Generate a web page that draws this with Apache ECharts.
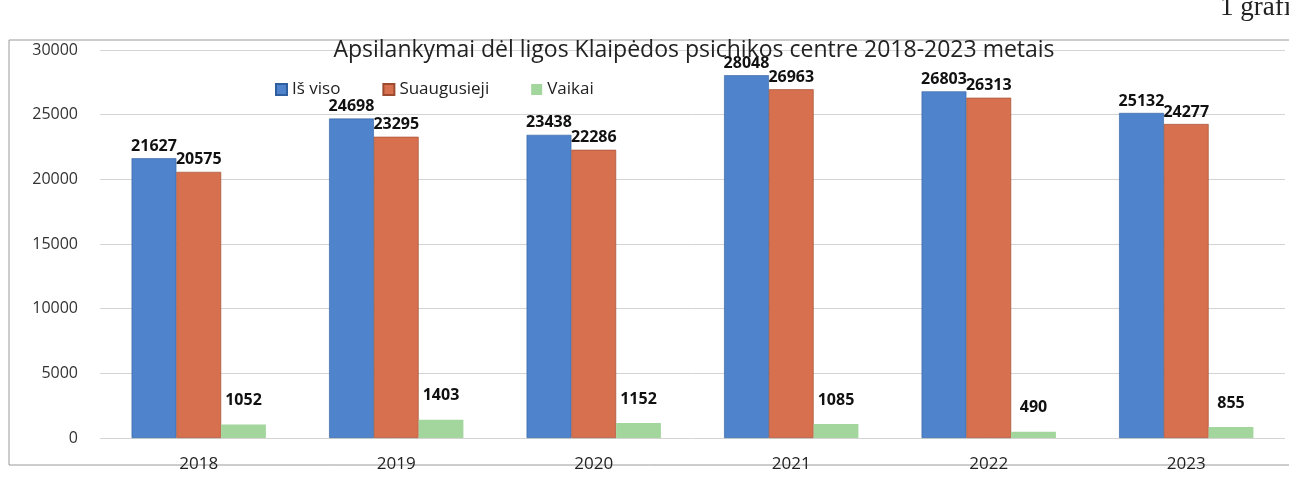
<!DOCTYPE html>
<html>
<head>
<meta charset="utf-8">
<script src="https://cdn.jsdelivr.net/npm/echarts@6/dist/echarts.min.js"></script>
<style>
  html, body { margin: 0; padding: 0; background: #fff; }
  #chart { width: 1289px; height: 483px; }
</style>
</head>
<body>
<div id="chart"></div>
<script>
// metai
var years = ['2018', '2019', '2020', '2021', '2022', '2023'];
// apsilankymai
var isViso = [21627, 24698, 23438, 28048, 26803, 25132];
var suaugusieji = [20575, 23295, 22286, 26963, 26313, 24277];
var vaikai = [1052, 1403, 1152, 1085, 490, 855];

var myChart = echarts.init(document.getElementById('chart'));

var labelStyle = {
    show: true,
    position: 'top',
    distance: 4,
    color: '#111',
    fontWeight: 'bold',
    fontSize: 16,
    fontFamily: 'Open Sans'
};

var option = {
    backgroundColor: '#fff',
    title: {
        text: 'Apsilankymai dėl ligos Klaipėdos psichikos centre 2018-2023 metais',
        left: 689,
        top: 34,
        textAlign: 'center',
        textStyle: { fontSize: 23, fontWeight: 500, color: '#222', fontFamily: 'Open Sans' }
    },
    legend: {
        top: 76,
        left: 270,
        itemWidth: 11,
        itemHeight: 11,
        itemGap: 42,
        icon: 'rect',
        textStyle: { fontSize: 17, color: '#222', fontFamily: 'Open Sans' },
        data: ['Iš viso', 'Suaugusieji', 'Vaikai']
    },
    grid: { left: 100, right: 4, top: 50, bottom: 45, containLabel: false },
    xAxis: {
        type: 'category',
        data: years,
        axisLine: { show: false },
        axisTick: { show: false },
        axisLabel: { fontSize: 17, color: '#222', margin: 18, fontFamily: 'Open Sans' }
    },
    yAxis: {
        type: 'value',
        min: 0,
        max: 30000,
        interval: 5000,
        axisLine: { show: false },
        axisTick: { show: false },
        axisLabel: {
            fontSize: 16, color: '#333', margin: 22, align: 'right', fontFamily: 'Open Sans',
            formatter: function (v) { return String(v); }
        },
        splitLine: { lineStyle: { color: '#d4d4d4', width: 1 } }
    },
    series: [
        {
            name: 'Iš viso', type: 'bar', data: isViso,
            barGap: '0%', barCategoryGap: '32%',
            itemStyle: { color: '#4f83cc', borderColor: '#2f5f9e', borderWidth: 0.6 },
            label: labelStyle
        },
        {
            name: 'Suaugusieji', type: 'bar', data: suaugusieji,
            itemStyle: { color: '#d6704f', borderColor: '#9c4a30', borderWidth: 0.6 },
            label: labelStyle
        },
        {
            name: 'Vaikai', type: 'bar', data: vaikai,
            itemStyle: { color: '#a3d69c' },
            label: Object.assign({}, labelStyle, { distance: 16 })
        }
    ],
    graphic: [
        {
            type: 'rect',
            shape: { x: 9, y: 40, width: 1300, height: 425 },
            style: { fill: 'none', stroke: '#9a9a9a', lineWidth: 1 },
            z: -1
        },
        {
            type: 'text',
            left: 1220,
            top: -6,
            style: { text: '1 grafikas', fontSize: 27, fill: '#222', fontFamily: 'Liberation Serif' }
        }
    ]
};

myChart.setOption(option);
</script>
</body>
</html>
